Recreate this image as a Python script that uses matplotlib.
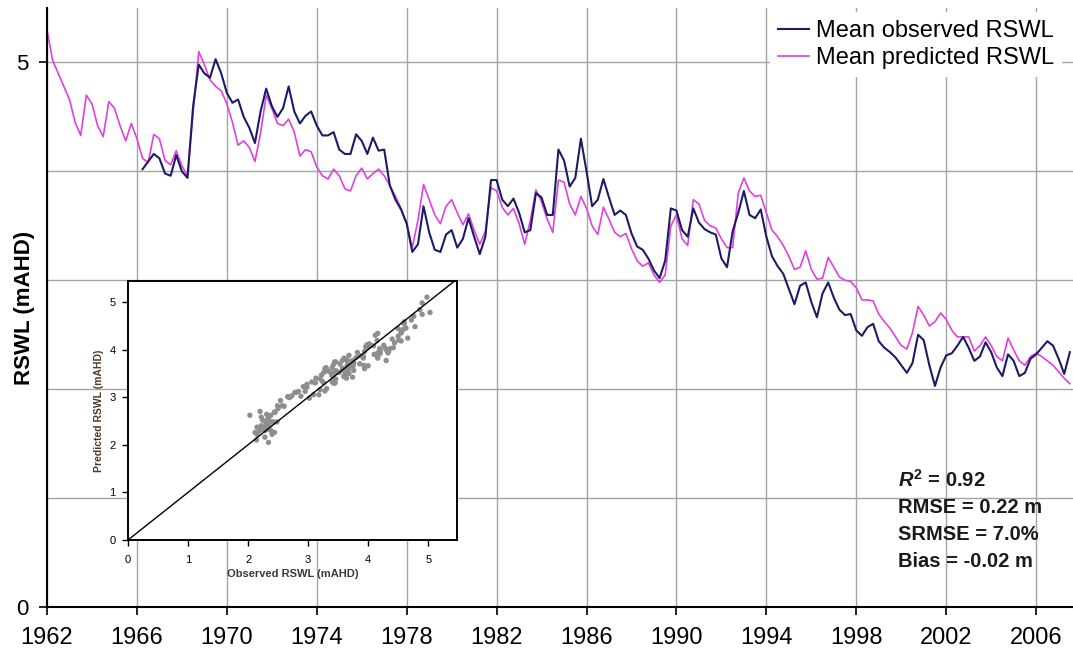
import numpy as np
import matplotlib
matplotlib.use("Agg")
import matplotlib.pyplot as plt
from matplotlib.ticker import FixedLocator

plt.rcParams['font.family'] = ['Liberation Sans', 'DejaVu Sans']
plt.rcParams['mathtext.fontset'] = 'custom'
plt.rcParams['mathtext.it'] = 'Liberation Sans:italic:bold'
plt.rcParams['mathtext.rm'] = 'Liberation Sans:bold'
plt.rcParams['mathtext.bf'] = 'Liberation Sans:bold'

# ---------------- data (quarterly) ----------------
t_start = 1962.0
t_step = 0.25

predicted = [
    5.30, 5.02, 4.90, 4.78,   # 1962
    4.66, 4.45, 4.33, 4.70,   # 1963
    4.62, 4.42, 4.32, 4.64,   # 1964
    4.58, 4.42, 4.28, 4.44,   # 1965
    4.30, 4.12, 4.08, 4.34,   # 1966
    4.30, 4.10, 4.06, 4.19,   # 1967
    4.05, 3.96, 4.54, 5.10,   # 1968
    4.98, 4.84, 4.78, 4.74,   # 1969
    4.62, 4.45, 4.24, 4.28,   # 1970
    4.22, 4.09, 4.35, 4.70,   # 1971
    4.58, 4.44, 4.42, 4.48,   # 1972
    4.36, 4.14, 4.20, 4.18,   # 1973
    4.04, 3.96, 3.93, 4.02,   # 1974
    3.96, 3.84, 3.82, 3.96,   # 1975
    4.03, 3.93, 3.98, 4.02,   # 1976
    3.96, 3.87, 3.77, 3.66,   # 1977
    3.52, 3.30, 3.55, 3.88,   # 1978
    3.74, 3.60, 3.52, 3.68,   # 1979
    3.74, 3.62, 3.51, 3.61,   # 1980
    3.46, 3.33, 3.45, 3.85,   # 1981
    3.82, 3.67, 3.60, 3.66,   # 1982
    3.52, 3.33, 3.55, 3.83,   # 1983
    3.72, 3.56, 3.44, 3.92,   # 1984
    3.90, 3.70, 3.60, 3.77,   # 1985
    3.66, 3.50, 3.42, 3.67,   # 1986
    3.56, 3.44, 3.40, 3.43,   # 1987
    3.29, 3.18, 3.13, 3.16,   # 1988
    3.05, 2.98, 3.05, 3.50,   # 1989
    3.60, 3.38, 3.32, 3.74,   # 1990
    3.70, 3.55, 3.50, 3.48,   # 1991
    3.38, 3.30, 3.30, 3.80,   # 1992
    3.94, 3.82, 3.77, 3.78,   # 1993
    3.62, 3.46, 3.40, 3.32,   # 1994
    3.22, 3.10, 3.12, 3.27,   # 1995
    3.10, 3.01, 3.02, 3.21,   # 1996
    3.12, 3.03, 3.00, 2.99,   # 1997
    2.93, 2.82, 2.82, 2.81,   # 1998
    2.69, 2.62, 2.56, 2.48,   # 1999
    2.40, 2.37, 2.52, 2.76,   # 2000
    2.68, 2.58, 2.62, 2.70,   # 2001
    2.64, 2.54, 2.48, 2.48,   # 2002
    2.48, 2.35, 2.40, 2.48,   # 2003
    2.40, 2.30, 2.26, 2.47,   # 2004
    2.36, 2.26, 2.22, 2.30,   # 2005
    2.33, 2.30, 2.26, 2.22,   # 2006
    2.16, 2.10, 2.05,         # 2007
]

obs_start = 1966.25
observed = [
    4.02, 4.09, 4.16,         # 1966 (from Q2)
    4.12, 3.98, 3.96, 4.15,   # 1967
    4.00, 3.94, 4.60, 4.98,   # 1968
    4.90, 4.86, 5.03, 4.90,   # 1969
    4.72, 4.63, 4.66, 4.50,   # 1970
    4.40, 4.26, 4.55, 4.76,   # 1971
    4.60, 4.50, 4.58, 4.78,   # 1972
    4.55, 4.44, 4.51, 4.55,   # 1973
    4.42, 4.33, 4.33, 4.36,   # 1974
    4.20, 4.16, 4.16, 4.34,   # 1975
    4.28, 4.16, 4.31, 4.19,   # 1976
    4.20, 3.87, 3.74, 3.65,   # 1977
    3.52, 3.26, 3.33, 3.68,   # 1978
    3.44, 3.28, 3.26, 3.42,   # 1979
    3.46, 3.30, 3.38, 3.57,   # 1980
    3.40, 3.24, 3.40, 3.92,   # 1981
    3.92, 3.74, 3.68, 3.75,   # 1982
    3.62, 3.44, 3.46, 3.80,   # 1983
    3.76, 3.60, 3.60, 4.20,   # 1984
    4.10, 3.86, 3.94, 4.30,   # 1985
    4.00, 3.68, 3.74, 3.93,   # 1986
    3.76, 3.60, 3.64, 3.60,   # 1987
    3.43, 3.31, 3.28, 3.20,   # 1988
    3.09, 3.02, 3.18, 3.66,   # 1989
    3.64, 3.46, 3.40, 3.66,   # 1990
    3.53, 3.47, 3.44, 3.42,   # 1991
    3.20, 3.12, 3.45, 3.62,   # 1992
    3.82, 3.60, 3.57, 3.65,   # 1993
    3.40, 3.22, 3.13, 3.06,   # 1994
    2.92, 2.78, 2.95, 2.98,   # 1995
    2.80, 2.66, 2.88, 2.98,   # 1996
    2.84, 2.73, 2.68, 2.69,   # 1997
    2.54, 2.49, 2.57, 2.60,   # 1998
    2.44, 2.38, 2.34, 2.29,   # 1999
    2.22, 2.15, 2.24, 2.50,   # 2000
    2.45, 2.22, 2.03, 2.20,   # 2001
    2.31, 2.33, 2.40, 2.48,   # 2002
    2.38, 2.26, 2.30, 2.43,   # 2003
    2.34, 2.20, 2.12, 2.32,   # 2004
    2.26, 2.12, 2.15, 2.28,   # 2005
    2.32, 2.38, 2.44, 2.40,   # 2006
    2.28, 2.14, 2.34,         # 2007
]

x_ticks = list(range(1962, 2007, 4))
stats_lines = [r'$R^2$ = 0.92', 'RMSE = 0.22 m', 'SRMSE = 7.0%', 'Bias = -0.02 m']

# ---------------- derived ----------------
pred = np.array(predicted)
obs = np.array(observed)
t_pred = t_start + t_step * np.arange(len(pred))
t_obs = obs_start + t_step * np.arange(len(obs))
offset = int(round((obs_start - t_start) / t_step))
pred_paired = pred[offset:offset + len(obs)]

# ---------------- figure ----------------
W, H = 1073, 653
fig = plt.figure(figsize=(W / 100, H / 100), dpi=100)

ax = fig.add_axes([47 / W, 1 - 607 / H, 1026 / W, 599 / H])
ax.set_xlim(1962, 2007.64)
ax.set_ylim(0, 5.5)

grid_c = '#a4a4a4'
ax.xaxis.set_major_locator(FixedLocator(x_ticks))
ax.yaxis.set_major_locator(FixedLocator([0, 5]))
ax.yaxis.set_minor_locator(FixedLocator([1, 2, 3, 4]))
ax.grid(True, which='both', color=grid_c, lw=1.0)
ax.tick_params(axis='y', which='minor', length=0)
ax.tick_params(axis='both', which='major', direction='out', length=5.5, width=1.2,
               color='black')
ax.tick_params(axis='x', labelsize=17, pad=9)
ax.tick_params(axis='y', labelsize=16, pad=8)
ax.set_axisbelow(True)
for s in ['top', 'right']:
    ax.spines[s].set_visible(False)
for s in ['left', 'bottom']:
    ax.spines[s].set_linewidth(1.5)

ln_obs, = ax.plot(t_obs, obs, color='#1c1c66', lw=1.5, label='Mean observed RSWL', zorder=3)
ln_pred, = ax.plot(t_pred, pred, color='#e040e0', lw=1.2, label='Mean predicted RSWL', zorder=2)

ax.set_ylabel('RSWL (mAHD)', fontsize=16, fontweight='bold')
ax.yaxis.set_label_coords(-0.012, 0.5)

leg = fig.legend(handles=[ln_obs, ln_pred], loc='upper left',
                 bbox_to_anchor=(770 / W, 1 - 12 / H), bbox_transform=fig.transFigure,
                 fontsize=17, frameon=True, fancybox=False, borderaxespad=0,
                 borderpad=0.35, handlelength=1.3, handletextpad=0.3, labelspacing=0.2)
leg.get_frame().set_facecolor('white')
leg.get_frame().set_edgecolor('none')
leg.get_frame().set_alpha(1)

# stats text
for i, s in enumerate(stats_lines):
    fig.text(898 / W, 1 - (480 + 27.3 * i) / H, s, fontsize=14.5, fontweight='bold',
             ha='left', va='center', color='#1a1a1a')

# ---------------- inset ----------------
axi = fig.add_axes([128 / W, 1 - 540 / H, 329 / W, 259 / H], zorder=5)
axi.set_facecolor('white')
axi.set_xlim(0, 5.48)
axi.set_ylim(0, 5.44)
axi.scatter(obs, pred_paired, s=15, color='#8e8e8e', edgecolors='none', zorder=2)
axi.axline((0, 0), slope=1, color='black', lw=1.0, zorder=3)
axi.set_xticks(range(0, 6))
axi.set_yticks(range(0, 6))
axi.tick_params(direction='out', length=4, width=1.0, labelsize=8, colors='black')
axi.tick_params(axis='x', pad=7)
axi.tick_params(axis='y', pad=5)
for s in axi.spines.values():
    s.set_linewidth(1.4)
axi.set_xlabel('Observed RSWL (mAHD)', fontsize=8, fontweight='bold', labelpad=3,
               color='#3a3a3a')
axi.set_ylabel('Predicted RSWL (mAHD)', fontsize=7.5, fontweight='bold', labelpad=4,
               color='#4a3a2a')

fig.savefig('out.png', dpi=100)
